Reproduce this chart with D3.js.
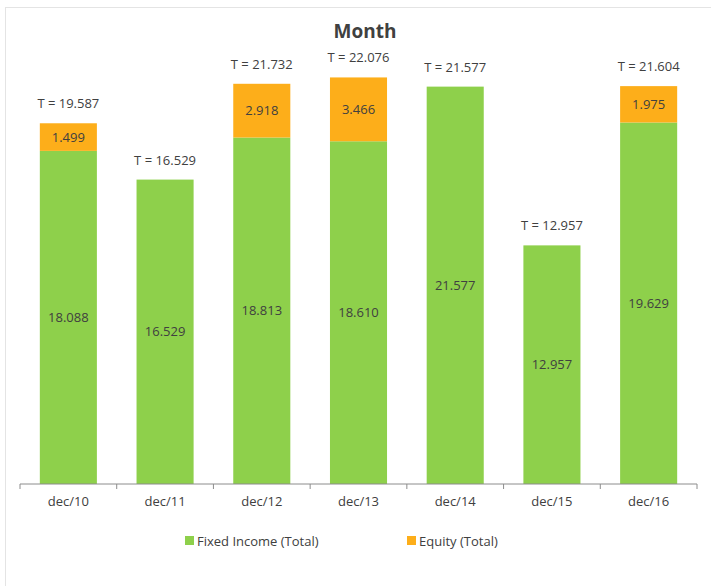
<!DOCTYPE html>
<html>
<head>
<meta charset="utf-8">
<script src="https://cdn.jsdelivr.net/npm/d3@7"></script>
<style>
  body { margin: 0; background: #fff; }
  text { font-family: "Open Sans", "Noto Sans", sans-serif; fill: #404040; }
</style>
</head>
<body>
<div id="chart-area"></div>
<script>
const months = ["dec/10", "dec/11", "dec/12", "dec/13", "dec/14", "dec/15", "dec/16"];
const fixedIncome = [18.088, 16.529, 18.813, 18.610, 21.577, 12.957, 19.629];
const equity = [1.499, 0, 2.918, 3.466, 0, 0, 1.975];
const totals = [19.587, 16.529, 21.732, 22.076, 21.577, 12.957, 21.604];
const seriesNames = ["Fixed Income (Total)", "Equity (Total)"];
const colors = ["#8ed04b", "#fdae1a"];

const drawChart = () => {
  const chartSize = { width: 711, height: 586 };
  const margin = { left: 20, right: 14, top: 42, bottom: 102 };
  const width = chartSize.width - margin.left - margin.right;
  const height = chartSize.height - margin.top - margin.bottom;
  const fmt = d3.format(".3f");

  const svg = d3.select("#chart-area")
    .append("svg")
    .attr("width", chartSize.width)
    .attr("height", chartSize.height);

  // faint outer frame
  svg.append("rect")
    .attr("x", 5.5).attr("y", 7.5)
    .attr("width", 720).attr("height", 600)
    .attr("fill", "none")
    .attr("stroke", "#e4e4e4");

  svg.append("text")
    .text("Month")
    .attr("x", 365).attr("y", 38)
    .attr("text-anchor", "middle")
    .attr("font-size", 19)
    .attr("font-weight", "bold");

  const g = svg.append("g")
    .attr("transform", `translate(${margin.left}, ${margin.top})`);

  const x = d3.scaleBand().domain(months).range([0, width])
    .paddingInner(0.41).paddingOuter(0.205);
  const y = d3.scaleLinear().domain([0, 24]).range([height, 0]);

  const rows = months.map((m, i) => ({ m, fi: fixedIncome[i], eq: equity[i], t: totals[i] }));

  // fixed income segment
  g.selectAll(".fi").data(rows).enter()
    .append("rect")
    .attr("class", "fi")
    .attr("x", d => x(d.m))
    .attr("y", d => y(d.fi))
    .attr("width", x.bandwidth())
    .attr("height", d => y(0) - y(d.fi))
    .attr("fill", colors[0]);

  // equity segment
  const eqRows = rows.filter(d => d.eq > 0);
  g.selectAll(".eq").data(eqRows).enter()
    .append("rect")
    .attr("class", "eq")
    .attr("x", d => x(d.m))
    .attr("y", d => y(d.fi + d.eq))
    .attr("width", x.bandwidth())
    .attr("height", d => y(d.fi) - y(d.fi + d.eq))
    .attr("fill", colors[1]);

  const cx = d => x(d.m) + x.bandwidth() / 2;

  g.selectAll(".fi-label").data(rows).enter()
    .append("text")
    .attr("x", cx)
    .attr("y", d => y(d.fi / 2))
    .attr("dy", "0.35em")
    .attr("text-anchor", "middle")
    .attr("font-size", 13)
    .text(d => fmt(d.fi));

  g.selectAll(".eq-label").data(eqRows).enter()
    .append("text")
    .attr("x", cx)
    .attr("y", d => y(d.fi + d.eq / 2))
    .attr("dy", "0.35em")
    .attr("text-anchor", "middle")
    .attr("font-size", 13)
    .text(d => fmt(d.eq));

  g.selectAll(".t-label").data(rows).enter()
    .append("text")
    .attr("x", cx)
    .attr("y", d => y(d.t) - 15)
    .attr("text-anchor", "middle")
    .attr("font-size", 13)
    .text(d => `T = ${fmt(d.t)}`);

  // x axis with ticks at category boundaries
  const axis = g.append("g").attr("transform", `translate(0, ${height})`);
  axis.append("line")
    .attr("x1", 0).attr("x2", width)
    .attr("stroke", "#8c8c8c");
  const bounds = months.map(m => x(m) - (x.step() - x.bandwidth()) / 2).concat([width]);
  axis.selectAll(".tick").data(bounds).enter()
    .append("line")
    .attr("x1", d => d).attr("x2", d => d)
    .attr("y1", 0).attr("y2", 5)
    .attr("stroke", "#8c8c8c");
  axis.selectAll(".xl").data(months).enter()
    .append("text")
    .attr("x", m => x(m) + x.bandwidth() / 2)
    .attr("y", 22)
    .attr("text-anchor", "middle")
    .attr("font-size", 13)
    .text(m => m);

  // legend
  const legendX = [185, 407];
  const legend = svg.selectAll(".legend").data(seriesNames).enter()
    .append("g")
    .attr("transform", (d, i) => `translate(${legendX[i]}, 541)`);
  legend.append("rect")
    .attr("x", 0).attr("y", -5)
    .attr("width", 9).attr("height", 9)
    .attr("fill", (d, i) => colors[i]);
  legend.append("text")
    .attr("x", 12).attr("y", 0)
    .attr("dy", "0.35em")
    .attr("font-size", 13)
    .text(d => d);
};

window.onload = drawChart;
</script>
</body>
</html>
